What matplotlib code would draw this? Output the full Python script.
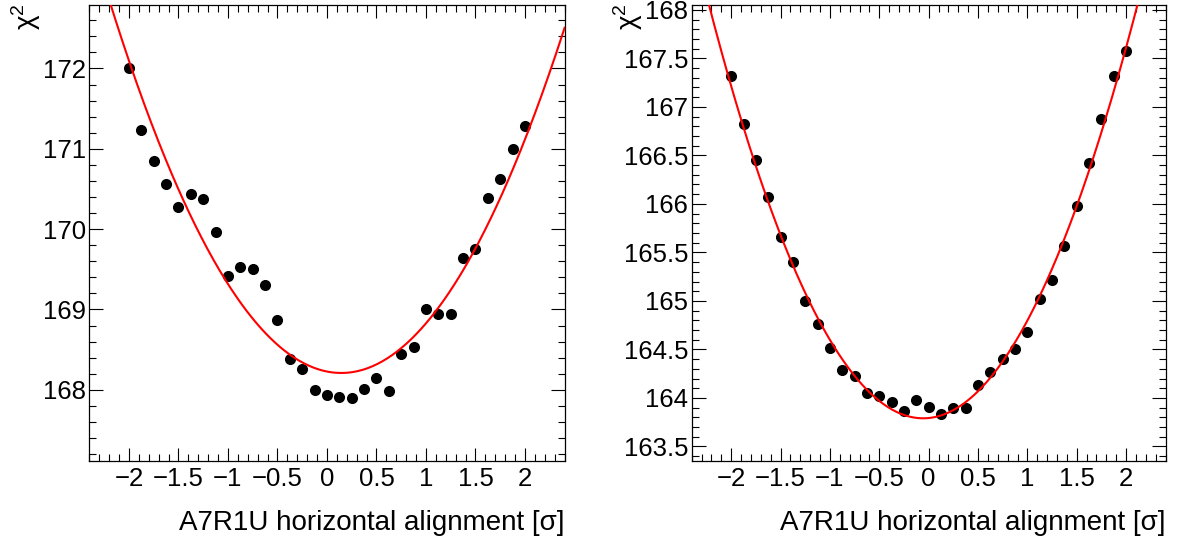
import numpy as np
import matplotlib
matplotlib.use("Agg")
import matplotlib.pyplot as plt
from matplotlib.ticker import MultipleLocator

plt.rcParams['font.family'] = ['Liberation Sans', 'DejaVu Sans']
plt.rcParams['mathtext.fontset'] = 'custom'
plt.rcParams['mathtext.rm'] = 'Liberation Sans'
plt.rcParams['mathtext.it'] = 'Liberation Sans:italic'
plt.rcParams['axes.unicode_minus'] = True

# Scan points of the alignment shift (in units of sigma)
shift = [-2.0, -1.875, -1.75, -1.625, -1.5, -1.375, -1.25, -1.125, -1.0,
         -0.875, -0.75, -0.625, -0.5, -0.375, -0.25, -0.125, 0.0,
         0.125, 0.25, 0.375, 0.5, 0.625, 0.75, 0.875, 1.0,
         1.125, 1.25, 1.375, 1.5, 1.625, 1.75, 1.875, 2.0]

chi2_left = [172.00, 171.24, 170.85, 170.56, 170.28, 170.44, 170.37, 169.97, 169.42,
             169.53, 169.50, 169.31, 168.87, 168.38, 168.26, 168.00, 167.94,
             167.91, 167.90, 168.01, 168.15, 167.99, 168.44, 168.53, 169.00,
             168.94, 168.95, 169.64, 169.75, 170.39, 170.63, 171.00, 171.28]

chi2_right = [167.32, 166.82, 166.45, 166.07, 165.66, 165.40, 165.00, 164.76, 164.51,
              164.29, 164.23, 164.05, 164.02, 163.96, 163.87, 163.98, 163.91,
              163.83, 163.90, 163.90, 164.13, 164.27, 164.40, 164.50, 164.68,
              165.02, 165.22, 165.57, 165.98, 166.42, 166.88, 167.32, 167.58]

# Parabola fit parameters: curvature, position of minimum, minimum value
fit_left = (0.845, 0.145, 168.21)
fit_right = (0.905, -0.055, 163.79)

x_title = "A7R1U horizontal alignment [σ]"
y_title = "χ$^{2}$"

W, H = 1177, 547
fig = plt.figure(figsize=(W / 100, H / 100), dpi=100)

panels = [
    dict(box=(89.3, 5.0, 564.6, 460.7), y=chi2_left, fit=fit_left,
         ylim=(167.118, 172.79), major=1.0, minor=0.2, fmt="{:.0f}", ytx=26),
    dict(box=(691.7, 5.0, 1165.6, 460.7), y=chi2_right, fit=fit_right,
         ylim=(163.353, 168.05), major=0.5, minor=0.1, fmt="{:g}", ytx=628),
]

for p in panels:
    x0, y0, x1, y1 = p['box']
    ax = fig.add_axes([x0 / W, 1 - y1 / H, (x1 - x0) / W, (y1 - y0) / H])
    ax.set_xlim(-2.4, 2.4)
    ax.set_ylim(*p['ylim'])

    ax.plot(shift, p['y'], 'o', color='black', markersize=8.0,
            markeredgewidth=0, zorder=2)

    a, xm, ym = p['fit']
    xs = np.linspace(-2.4, 2.4, 400)
    ax.plot(xs, a * (xs - xm) ** 2 + ym, color='#ff0000', lw=1.5, zorder=3)

    ax.xaxis.set_major_locator(MultipleLocator(0.5))
    ax.xaxis.set_minor_locator(MultipleLocator(0.1))
    ax.yaxis.set_major_locator(MultipleLocator(p['major']))
    ax.yaxis.set_minor_locator(MultipleLocator(p['minor']))
    ax.xaxis.set_major_formatter(plt.FuncFormatter(
        lambda v, _: ("{:g}".format(round(v, 2))).replace("-", "\u2212")))
    ax.yaxis.set_major_formatter(plt.FuncFormatter(
        lambda v, _, f=p['fmt']: f.format(round(v, 2))))

    ax.tick_params(which='both', direction='in', top=True, right=True,
                   width=0.8, color='black')
    ax.tick_params(which='major', axis='x', length=9.6, pad=4.6, labelsize=18.5)
    ax.tick_params(which='minor', axis='x', length=4.8)
    ax.tick_params(which='major', axis='y', length=10.0, pad=2.5, labelsize=18.5)
    ax.tick_params(which='minor', axis='y', length=5.0)
    for s in ax.spines.values():
        s.set_linewidth(0.9)

    ax.set_xlabel(x_title, fontsize=20, loc='right')
    ax.xaxis.set_label_coords(1.0, -(510 - y1) / (y1 - y0))

    fig.text(p['ytx'] / W, 1 - 3 / H, y_title, rotation=90, fontsize=20,
             ha='center', va='top')

fig.savefig("out.png", dpi=100)
